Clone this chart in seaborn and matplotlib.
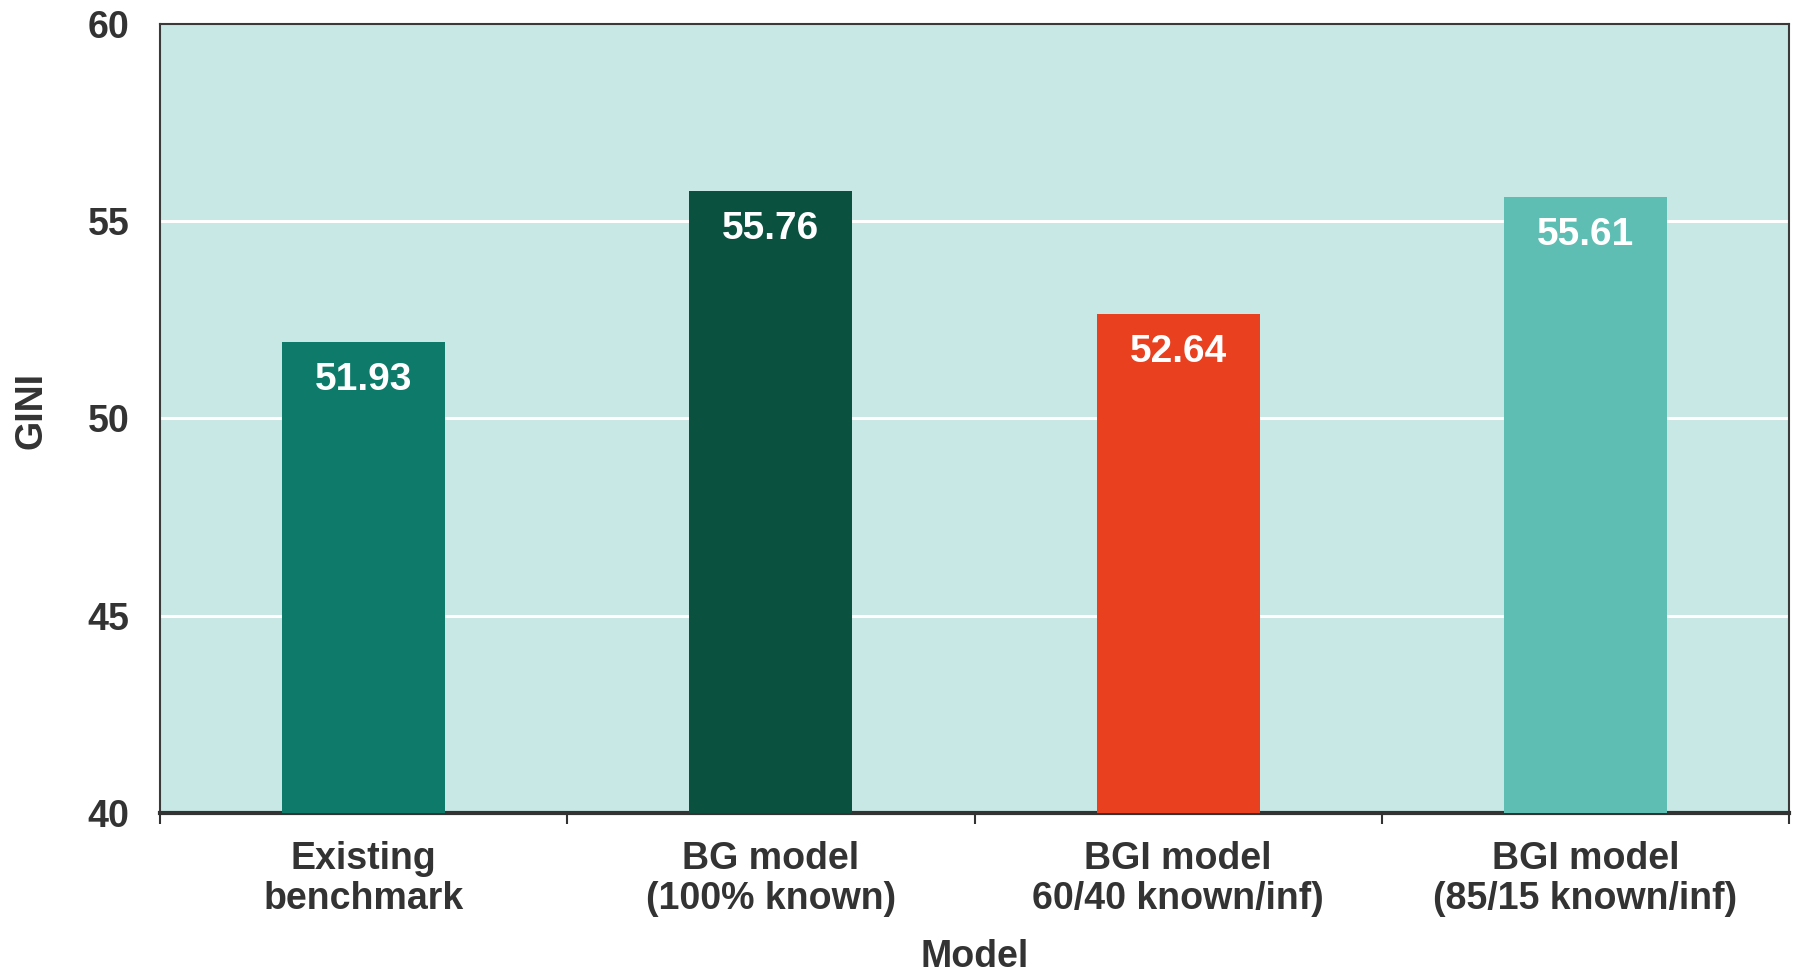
import matplotlib
matplotlib.use("Agg")
import matplotlib.pyplot as plt
from matplotlib.ticker import FixedLocator
import seaborn as sns
import pandas as pd

# Model comparison data
models = [
    "Existing\nbenchmark",
    "BG model\n(100% known)",
    "BGI model\n60/40 known/inf)",
    "BGI model\n(85/15 known/inf)",
]
gini = [51.93, 55.76, 52.64, 55.61]
colors = ["#0E7B6A", "#0B5140", "#E9401F", "#5FBEB3"]
y_ticks = [40, 45, 50, 55, 60]

TEXT = "#333333"
BG = "#C8E8E5"

sns.set_theme(style="white")
plt.rcParams["font.family"] = ["Liberation Sans", "DejaVu Sans"]
plt.rcParams["font.weight"] = "bold"

df = pd.DataFrame({"Model": models, "GINI": gini})

fig = plt.figure(figsize=(17.96, 9.77), dpi=100)
ax = fig.add_axes([160 / 1796, 1 - 813 / 977, (1789 - 160) / 1796, (813 - 24) / 977])
ax.set_facecolor(BG)

sns.barplot(data=df, x="Model", y="GINI", hue="Model", palette=colors,
            width=0.4, legend=False, ax=ax, zorder=3, saturation=1,
            linewidth=0, edgecolor="none")

ax.set_ylim(40, 60)
ax.set_xlim(-0.5, len(models) - 0.5)
ax.yaxis.set_major_locator(FixedLocator(y_ticks))

# white horizontal gridlines behind the bars
for v in y_ticks[1:-1]:
    ax.axhline(v, color="white", lw=2.2, zorder=1)

# value labels inside the top of each bar
for bar, v in zip(ax.patches, gini):
    ax.annotate(f"{v:.2f}", (bar.get_x() + bar.get_width() / 2, bar.get_height()),
                xytext=(0, -14), textcoords="offset points",
                ha="center", va="top", color="white", fontsize=28,
                fontweight="bold", zorder=4)

# frame
for side in ["left", "top", "right"]:
    ax.spines[side].set_color("#3a3a3a")
    ax.spines[side].set_linewidth(1.5)
ax.spines["bottom"].set_color("#333333")
ax.spines["bottom"].set_linewidth(3)

# tick labels; small tick marks sit between categories
ax.tick_params(axis="y", length=0, pad=22, labelsize=27, labelcolor=TEXT)
ax.tick_params(axis="x", which="major", length=0, pad=20, labelsize=27, labelcolor=TEXT)
ax.xaxis.set_minor_locator(FixedLocator([-0.5, 0.5, 1.5, 2.5, 3.5]))
ax.tick_params(axis="x", which="minor", length=8, width=1.5, color="#333333",
               bottom=True, direction="out")
for lbl in ax.get_xticklabels():
    lbl.set_linespacing(1.15)
    lbl.set_fontweight("bold")
for lbl in ax.get_yticklabels():
    lbl.set_fontweight("bold")

ax.set_xlabel("Model", fontsize=27, fontweight="bold", color=TEXT, labelpad=16)
ax.set_ylabel("GINI", fontsize=27, fontweight="bold", color=TEXT)
ax.yaxis.set_label_coords(-0.068, 0.51)

fig.savefig("out.png", dpi=100, facecolor="white")
